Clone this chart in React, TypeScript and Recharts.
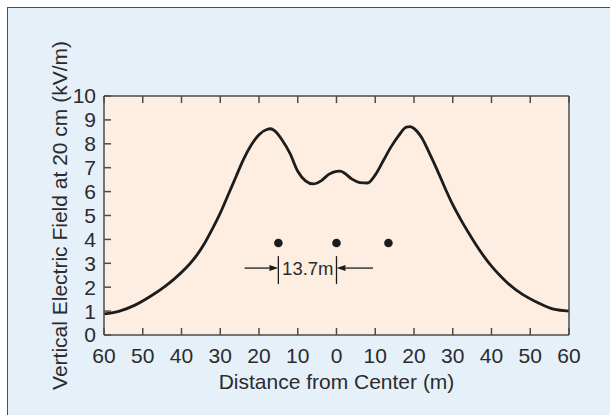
import {
  ComposedChart,
  Line,
  Scatter,
  XAxis,
  YAxis,
  CartesianGrid,
  ReferenceLine,
  ReferenceDot,
  Label,
} from 'recharts';

// field profile under the line
const distance = [
  -60, -56, -52, -48, -44, -42, -40, -38, -36, -34, -32, -30, -28, -26, -24, -22, -20, -18, -17, -16, -14, -12,
  -10, -8, -6, -4, -2, 0, 1, 2, 4, 6, 8, 10, 12, 14, 16, 18, 19, 20, 22, 24, 26, 28, 30, 32, 34, 36, 38, 40, 42,
  44, 48, 52, 56, 60,
];
const field = [
  0.88, 1.0, 1.25, 1.62, 2.07, 2.33, 2.62, 2.95, 3.35, 3.85, 4.45, 5.1, 5.85, 6.6, 7.35, 7.95, 8.38, 8.6, 8.63,
  8.55, 8.15, 7.6, 6.85, 6.45, 6.32, 6.45, 6.72, 6.85, 6.86, 6.78, 6.52, 6.38, 6.36, 6.7, 7.27, 7.85, 8.33, 8.7,
  8.72, 8.64, 8.25, 7.6, 6.9, 6.15, 5.45, 4.85, 4.3, 3.78, 3.3, 2.88, 2.52, 2.2, 1.7, 1.35, 1.08, 1.0,
];

// conductor positions
const conductorX = [-15, 0, 13.4];
const conductorY = [3.85, 3.85, 3.85];

// 13.7m spacing annotation
const spacingText = '13.7m';
const spacingBars = [-15, 0];
const spacingBarRange = [2.13, 3.3];
const arrowTails = [-23.7, 9.4];
const arrowLevel = 2.8;
const spacingTextPos = [-7.4, 2.8];

const xTicks = [-60, -50, -40, -30, -20, -10, 0, 10, 20, 30, 40, 50, 60];
const yTicks = [0, 1, 2, 3, 4, 5, 6, 7, 8, 9, 10];

const curve = distance.map((d, i) => ({ d, v: field[i] }));
const conductors = conductorX.map((d, i) => ({ d, v: conductorY[i] }));

const ink = '#1c1c1c';
const axisColor = '#4d4d4d';
const textColor = '#2b2b2b';
const font = '"Liberation Sans", Arial, Helvetica, sans-serif';
const tickStyle = { fill: textColor, fontSize: 21, fontFamily: font };

const Arrow = (props: any) => {
  const { x1, y1, x2, y2 } = props;
  const dir = Math.sign(x2 - x1) || 1;
  const head = 9;
  return (
    <g>
      <line x1={x1} y1={y1} x2={x2 - dir * head} y2={y2} stroke={ink} strokeWidth={1.3} />
      <polygon
        points={`${x2},${y2} ${x2 - dir * head},${y2 - 3} ${x2 - dir * head},${y2 + 3}`}
        fill={ink}
      />
    </g>
  );
};

const YTitle = (props: any) => {
  const vb = props.viewBox || { x: 0, y: 96, width: 104, height: 239 };
  const cx = vb.x + vb.width - 44;
  const cy = vb.y + vb.height / 2;
  return (
    <text
      x={cx}
      y={cy}
      dy="0.35em"
      transform={`rotate(-90, ${cx}, ${cy})`}
      textAnchor="middle"
      fill={textColor}
      fontSize={21}
      fontFamily={font}
    >
      Vertical Electric Field at 20 cm (kV/m)
    </text>
  );
};

export default function App() {
  return (
    <div style={{ position: 'absolute', left: 0, top: 0, width: 610, height: 415, background: '#fff' }}>
      <div
        style={{
          position: 'absolute',
          left: 7,
          top: 7,
          right: 0,
          bottom: 0,
          background: '#e6f0f9',
          borderLeft: `1.5px solid ${axisColor}`,
          borderTop: `1.5px solid ${axisColor}`,
        }}
      />
      <div style={{ position: 'absolute', left: 0, top: 0 }}>
        <ComposedChart width={610} height={415} data={curve} margin={{ top: 66, right: 0, bottom: 0, left: 0 }}>
          <CartesianGrid horizontal={false} vertical={false} fill="#fdeee1" />
          <XAxis
            dataKey="d"
            type="number"
            domain={[-60, 60]}
            ticks={xTicks}
            interval={0}
            height={80}
            tickSize={-7}
            tickMargin={20}
            tickFormatter={(v: number) => String(Math.abs(v))}
            stroke={axisColor}
            strokeWidth={1.5}
            tick={tickStyle}
          >
            <Label
              value="Distance from Center (m)"
              position="insideTop"
              offset={39}
              fill={textColor}
              fontSize={21}
              fontFamily={font}
            />
          </XAxis>
          <XAxis
            xAxisId="t"
            orientation="top"
            dataKey="d"
            type="number"
            domain={[-60, 60]}
            ticks={xTicks}
            interval={0}
            height={30}
            tickSize={-7}
            stroke={axisColor}
            strokeWidth={1.5}
            tick={() => <g />}
          />
          <YAxis
            type="number"
            domain={[0, 10]}
            ticks={yTicks}
            interval={0}
            width={104}
            tickSize={-7}
            tickMargin={15}
            stroke={axisColor}
            strokeWidth={1.5}
            tick={tickStyle}
          >
            <Label content={YTitle} />
          </YAxis>
          <YAxis
            yAxisId="r"
            orientation="right"
            type="number"
            domain={[0, 10]}
            ticks={yTicks}
            interval={0}
            width={41}
            tickSize={-7}
            stroke={axisColor}
            strokeWidth={1.5}
            tick={() => <g />}
          />
          <Line
            dataKey="v"
            type="monotone"
            stroke={ink}
            strokeWidth={2.8}
            dot={false}
            activeDot={false}
            isAnimationActive={false}
          />
          <Scatter
            data={conductors}
            dataKey="v"
            fill={ink}
            isAnimationActive={false}
            shape={(p: any) => <circle cx={p.cx} cy={p.cy} r={4.3} fill={ink} />}
          />
          {spacingBars.map((x) => (
            <ReferenceLine
              key={`bar${x}`}
              segment={[
                { x, y: spacingBarRange[1] },
                { x, y: spacingBarRange[0] },
              ]}
              stroke={ink}
              strokeWidth={1.3}
            />
          ))}
          {arrowTails.map((x, i) => (
            <ReferenceLine
              key={`arrow${i}`}
              segment={[
                { x, y: arrowLevel },
                { x: spacingBars[i], y: arrowLevel },
              ]}
              shape={Arrow}
            />
          ))}
          <ReferenceDot
            x={spacingTextPos[0]}
            y={spacingTextPos[1]}
            r={0}
            shape={(p: any) => (
              <text
                x={p.cx}
                y={p.cy}
                dy="0.36em"
                textAnchor="middle"
                fill={textColor}
                fontSize={18.5}
                fontFamily={font}
              >
                {spacingText}
              </text>
            )}
          />
        </ComposedChart>
      </div>
    </div>
  );
}
